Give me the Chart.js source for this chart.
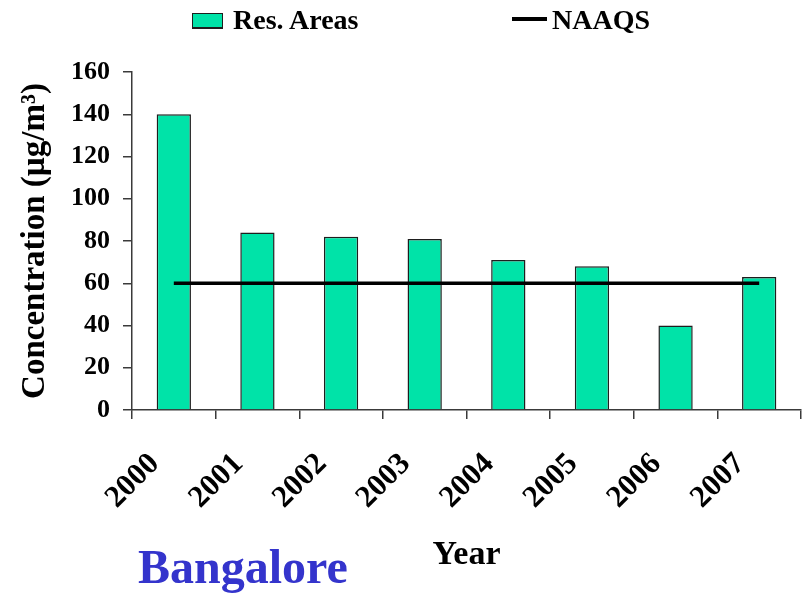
<!DOCTYPE html>
<html>
<head>
<meta charset="utf-8">
<script src="https://cdn.jsdelivr.net/npm/chart.js@4.4.1/dist/chart.umd.min.js"></script>
<style>
    body { margin: 0; background: #fff; }
    #wrap { position: relative; width: 803px; height: 594px; font-family: "Liberation Serif", "Times New Roman", serif; }
    .lg { position: absolute; font-weight: bold; font-size: 28px; line-height: 28px; color: #000; white-space: nowrap; }
    .lg-box { position: absolute; left: 192px; top: 13px; width: 29px; height: 13px; background: #00E3A8; border: 1.5px solid #1e1e1e; border-bottom-width: 2.5px; }
    .lg-line { position: absolute; left: 512px; top: 17px; width: 35px; height: 4px; background: #000; }
    #city { position: absolute; left: 138px; top: 543px; font-weight: bold; font-size: 48px; line-height: 48px; color: #3434CC; }
</style>
</head>
<body>
<div id="wrap">
    <canvas id="myChart"></canvas>
    <div class="lg-box"></div>
    <div class="lg" style="left:233px; top:6px;">Res. Areas</div>
    <div class="lg-line"></div>
    <div class="lg" style="left:552px; top:6px;">NAAQS</div>
    <div id="city">Bangalore</div>
</div>
<script>
    const years = ['2000', '2001', '2002', '2003', '2004', '2005', '2006', '2007'];
    const resAreas = [140, 84, 82, 81, 71, 68, 40, 63];
    const naaqs = [60, 60, 60, 60, 60, 60, 60, 60];
    const yTicks = [0, 20, 40, 60, 80, 100, 120, 140, 160];

    const axisColor = '#3a3a3a';
    const serif = '"Liberation Serif", "Times New Roman", serif';

    let ctx = document.getElementById('myChart');
    let myChart = new Chart(ctx, {
        data: {
            labels: years,
            datasets: [{
                type: 'line',
                label: 'NAAQS',
                data: naaqs,
                borderColor: '#000',
                borderWidth: 3.5,
                pointRadius: 0,
                fill: false,
                tension: 0,
                order: 0
            }, {
                type: 'bar',
                label: 'Res. Areas',
                data: resAreas,
                backgroundColor: '#00E3A8',
                borderColor: '#1e1e1e',
                borderWidth: 1.5,
                categoryPercentage: 1,
                barPercentage: 0.41,
                order: 1
            }]
        },
        options: {
            responsive: true,
            maintainAspectRatio: false,
            animation: false,
            layout: {
                padding: { top: 72, right: 2, left: 0, bottom: 0 }
            },
            plugins: {
                legend: { display: false },
                tooltip: { enabled: false }
            },
            scales: {
                x: {
                    offset: true,
                    afterFit: scale => {
                        scale.height = 184;
                        // rotated labels hang to the left, no need for room on the right
                        scale.paddingRight = 0;
                        scale.paddingLeft = 0;
                    },
                    grid: {
                        offset: true,
                        drawOnChartArea: false,
                        drawTicks: true,
                        tickLength: 9,
                        color: axisColor,
                        lineWidth: 1.5
                    },
                    border: { display: true, color: axisColor, width: 1.5 },
                    ticks: {
                        autoSkip: false,
                        minRotation: 45,
                        maxRotation: 45,
                        labelOffset: -19,
                        padding: 27,
                        color: '#000',
                        font: { family: serif, size: 31, weight: 'bold' }
                    },
                    title: {
                        display: true,
                        text: 'Year',
                        color: '#000',
                        padding: { top: 0, bottom: 18 },
                        font: { family: serif, size: 34, weight: 'bold' }
                    }
                },
                y: {
                    min: 0,
                    max: 160,
                    afterFit: scale => { scale.width = 132; },
                    afterBuildTicks: scale => { scale.ticks = yTicks.map(v => ({ value: v })); },
                    grid: {
                        drawOnChartArea: false,
                        drawTicks: true,
                        tickLength: 9,
                        color: axisColor,
                        lineWidth: 1.5
                    },
                    border: { display: true, color: axisColor, width: 1.5 },
                    ticks: {
                        padding: 13,
                        color: '#000',
                        font: { family: serif, size: 26, weight: 'bold' }
                    },
                    title: {
                        display: true,
                        text: 'Concentration (µg/m³)',
                        color: '#000',
                        padding: { top: 16, bottom: 0 },
                        font: { family: serif, size: 33, weight: 'bold' }
                    }
                }
            }
        }
    });
</script>
</body>
</html>
